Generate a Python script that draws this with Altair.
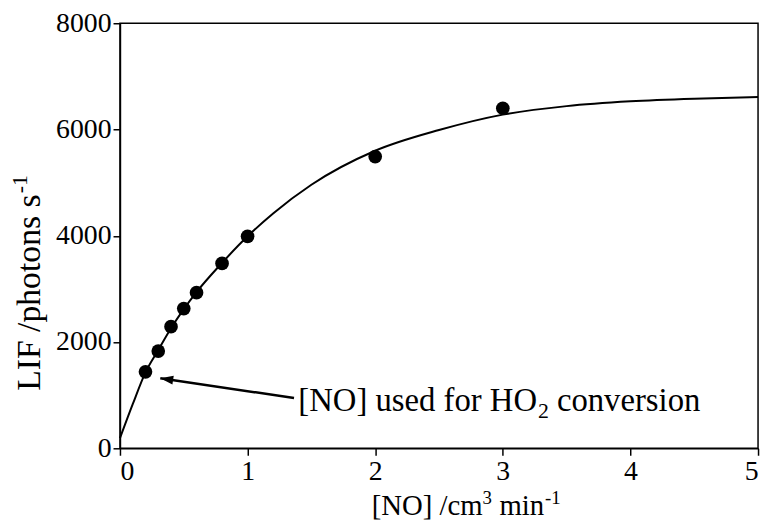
import altair as alt
import pandas as pd

# measured data points
no_flow = [0.2, 0.3, 0.4, 0.5, 0.6, 0.8, 1.0, 2.0, 3.0]
lif = [1440, 1830, 2290, 2630, 2930, 3480, 3990, 5490, 6400]

# fitted curve
curve_x = [0.0, 0.1, 0.2, 0.3, 0.4, 0.5, 0.6, 0.8, 1.0, 1.2, 1.5, 2.0, 2.5, 3.0, 3.5, 4.0, 4.5, 5.0]
curve_y = [190, 830, 1430, 1850, 2260, 2620, 2940, 3490, 3990, 4420, 4960, 5600, 5990, 6280, 6440, 6530, 6580, 6610]

# annotation
arrow_tail = (1.364, 946)
arrow_tip = (0.316, 1319)
note_parts = ["[NO] used for HO", "2", "conversion"]

x_title_parts = ["[NO] /cm", "3", "min", "-1"]
y_title_parts = ["LIF /photons s", "-1"]

x_ticks = [0, 1, 2, 3, 4, 5]
y_ticks = [0, 2000, 4000, 6000, 8000]

FONT = "Liberation Serif"
NOTE_FS = 33
XT_FS = 29
YT_FS = 34
SUP_FS = 19

xs = alt.Scale(domain=[0, 5], nice=False, zero=False)
ys = alt.Scale(domain=[0, 8000], nice=False)

x_axis = alt.Axis(values=x_ticks, title="", format="d")
y_axis = alt.Axis(values=y_ticks, title="", format="d")

pts = pd.DataFrame({"x": no_flow, "y": lif})
crv = pd.DataFrame({"x": curve_x, "y": curve_y})
one = pd.DataFrame({"k": [0]})

line = alt.Chart(crv).mark_line(color="black", strokeWidth=2, interpolate="monotone").encode(
    x=alt.X("x:Q", scale=xs, axis=x_axis),
    y=alt.Y("y:Q", scale=ys, axis=y_axis),
)

dots = alt.Chart(pts).mark_point(filled=True, color="black", opacity=1, size=190, shape="circle").encode(
    x=alt.X("x:Q", scale=xs),
    y=alt.Y("y:Q", scale=ys),
)

arrow_df = pd.DataFrame({"x": [arrow_tail[0]], "y": [arrow_tail[1]],
                         "x2": [arrow_tip[0]], "y2": [arrow_tip[1]]})
shaft = alt.Chart(arrow_df).mark_rule(color="black", strokeWidth=2.5).encode(
    x=alt.X("x:Q", scale=xs), y=alt.Y("y:Q", scale=ys),
    x2="x2:Q", y2="y2:Q",
)
head = alt.Chart(arrow_df).mark_point(
    filled=True, color="black", opacity=1, size=170,
    shape="M0,0 L-2,-0.7 L-2,0.7 Z", angle=188.4,
).encode(x=alt.X("x2:Q", scale=xs), y=alt.Y("y2:Q", scale=ys))


def txt(s, x, y, fs, angle=0):
    kw = dict(text=s, font=FONT, fontSize=fs, align="left", baseline="alphabetic", color="black")
    if angle:
        kw["angle"] = angle
    return alt.Chart(one).mark_text(**kw).encode(x=alt.value(x), y=alt.value(y))


# positions in px relative to the plot area (page: left=121, top=21)
nb = 412 - 21
nx = 301 - 121
w1 = 7.303 * NOTE_FS
note = (
    txt(note_parts[0], nx, nb, NOTE_FS)
    + txt(note_parts[1], nx + w1 + 1, nb + 7, 22)
    + txt(note_parts[2], nx + w1 + 20, nb, NOTE_FS)
)

xb = 517 - 21
xx = 375 - 121
a = 3.86 * XT_FS
xtitle = (
    txt(x_title_parts[0], xx, xb, XT_FS)
    + txt(x_title_parts[1], xx + a, xb - 11, SUP_FS)
    + txt(x_title_parts[2], xx + a + 17, xb, XT_FS)
    + txt(x_title_parts[3], xx + a + 17 + 1.556 * XT_FS + 1, xb - 11, SUP_FS)
)

yb = 40 - 121
ystart = 392 - 21
L = 5.834 * YT_FS
ytitle = (
    txt(y_title_parts[0], yb, ystart, YT_FS, angle=270)
    + txt(y_title_parts[1], yb - 13, ystart - L - 1, 22, angle=270)
)

chart = (line + dots + shaft + head + note + xtitle + ytitle).properties(
    width=644, height=429,
    autosize=alt.AutoSizeParams(type="none"),
    padding={"left": 113, "top": 13, "right": 5, "bottom": 74},
).configure_view(
    stroke="black", strokeWidth=1.5
).configure_axis(
    grid=False, domainColor="black", domainWidth=1.5, tickColor="black", tickWidth=1.5,
    tickSize=7, labelFont=FONT, labelFontSize=28, labelColor="black",
    labelPadding=2,
)

chart.save("out.html", embed_options={"renderer": "svg", "actions": False})
